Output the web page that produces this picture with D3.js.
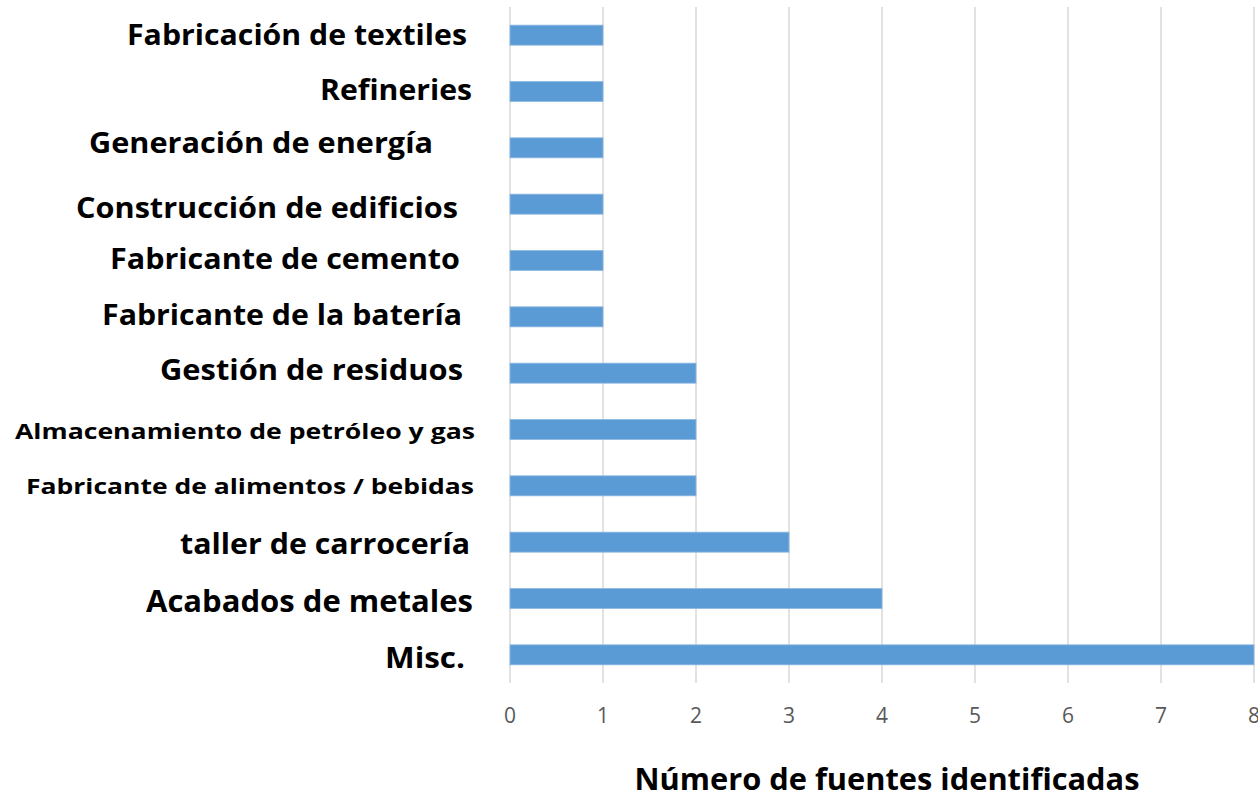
<!DOCTYPE html>
<html lang="es">
<head>
  <meta charset="UTF-8">
  <title>Fuentes identificadas por sector</title>
  <script src="https://d3js.org/d3.v7.min.js"></script>
  <style>
    body {
      margin: 0;
      background: #fff;
    }
    svg {
      display: block;
    }
    .cat-label {
      font-family: "Open Sans", Calibri, sans-serif;
      font-weight: 700;
      fill: #000;
    }
    .tick-label {
      font-family: "Open Sans", Calibri, sans-serif;
      font-size: 21px;
      fill: #595959;
    }
    .axis-title {
      font-family: "Open Sans", Calibri, sans-serif;
      font-weight: 700;
      font-size: 31px;
      fill: #000;
    }
  </style>
</head>
<body>
  <svg width="1258" height="794"></svg>

  <script>
    // data, top to bottom as in the picture
    const categories = [
      "Fabricación de textiles",
      "Refineries",
      "Generación de energía",
      "Construcción de edificios",
      "Fabricante de cemento",
      "Fabricante de la batería",
      "Gestión de residuos",
      "Almacenamiento de petróleo y gas",
      "Fabricante de alimentos / bebidas",
      "taller de carrocería",
      "Acabados de metales",
      "Misc."
    ];
    const values = [1, 1, 1, 1, 1, 1, 2, 2, 2, 3, 4, 8];
    const xTicks = [0, 1, 2, 3, 4, 5, 6, 7, 8];
    const xTitle = "Número de fuentes identificadas";

    // the category labels were hand placed in the original, so each has its own look
    const labelSize  = [29, 29, 29, 29, 29, 29, 29, 22, 22, 29, 30, 29];
    const labelWidth = [340, 152, 344, 382, 350, 360, 303, 460, 448, 290, 327, 80];
    const labelEnd   = [467, 472, 433, 458, 460, 462, 463, 475, 474, 470, 473, 465];
    const labelShift = [-2, -3, -6, 2, -3, -3, -5, 0, -1, 0, 2, 2];

    const svg = d3.select("svg");
    const plot = {left: 510, right: 1254, top: 7, bottom: 683};

    const x = d3.scaleLinear()
      .domain([0, 8])
      .range([plot.left, plot.right]);

    const y = d3.scaleBand()
      .domain(categories)
      .range([plot.top, plot.bottom])
      .paddingInner(0.645)
      .paddingOuter(0.3225);

    // vertical gridlines
    svg.append("g")
      .selectAll("line")
      .data(xTicks)
      .join("line")
      .attr("x1", d => x(d))
      .attr("x2", d => x(d))
      .attr("y1", plot.top)
      .attr("y2", plot.bottom)
      .attr("stroke", "#d9d9d9")
      .attr("stroke-width", 1.5);

    // bars
    svg.append("g")
      .selectAll("rect")
      .data(categories)
      .join("rect")
      .attr("x", x(0))
      .attr("y", d => y(d))
      .attr("width", (d, i) => x(values[i]) - x(0))
      .attr("height", y.bandwidth())
      .attr("fill", "#5b9bd5")
      .attr("stroke", "#8cb8e2")
      .attr("stroke-width", 0.8);

    // category labels
    svg.append("g")
      .selectAll("text")
      .data(categories)
      .join("text")
      .attr("class", "cat-label")
      .attr("x", (d, i) => labelEnd[i])
      .attr("y", (d, i) => y(d) + y.bandwidth() / 2 + labelShift[i])
      .attr("text-anchor", "end")
      .attr("dominant-baseline", "central")
      .attr("font-size", (d, i) => labelSize[i] + "px")
      .attr("textLength", (d, i) => labelWidth[i])
      .attr("lengthAdjust", "spacingAndGlyphs")
      .text(d => d);

    // x tick labels
    svg.append("g")
      .selectAll("text")
      .data(xTicks)
      .join("text")
      .attr("class", "tick-label")
      .attr("x", d => x(d))
      .attr("y", 715)
      .attr("text-anchor", "middle")
      .attr("dominant-baseline", "central")
      .text(d => d);

    // axis title
    svg.append("text")
      .attr("class", "axis-title")
      .attr("x", 887)
      .attr("y", 790)
      .attr("text-anchor", "middle")
      .attr("textLength", 505)
      .attr("lengthAdjust", "spacingAndGlyphs")
      .text(xTitle);
  </script>
</body>
</html>
